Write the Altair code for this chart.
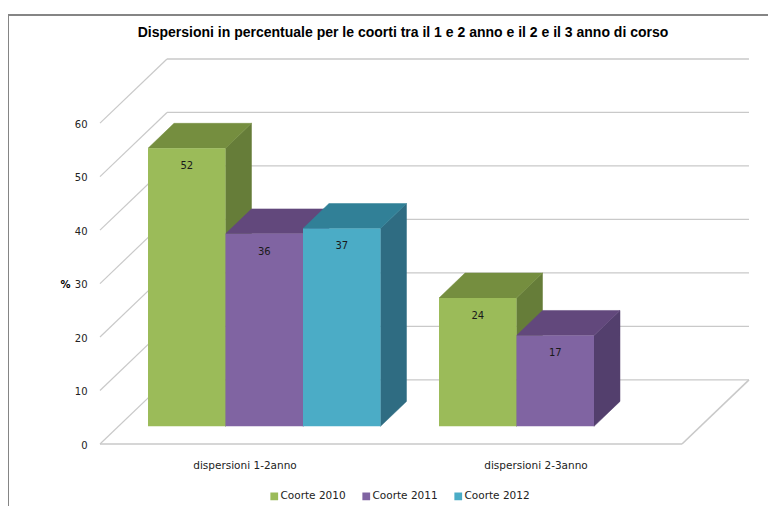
import altair as alt
import pandas as pd

# ---- values
categories = ["dispersioni 1-2anno", "dispersioni 2-3anno"]
cohorts = ["Coorte 2010", "Coorte 2011", "Coorte 2012"]
values_2010 = [52, 24]
values_2011 = [36, 17]
values_2012 = [37, None]
y_ticks = [0, 10, 20, 30, 40, 50, 60]
title_text = "Dispersioni in percentuale per le coorti tra il 1  e 2 anno  e il 2  e il 3  anno di corso"

front_colors = ["#9BBB59", "#8064A2", "#4BACC6"]
side_colors = ["#667D39", "#533F6D", "#2F6C82"]
top_colors = ["#758E3F", "#62487C", "#318097"]
grid_color = "#C9C9C9"
frame_color = "#858585"
font = "DejaVu Sans"

# ---- projection of the 3D box, in data units (1 x unit = one category)
wall_dx, wall_dy = 0.2302, 12.0
bar_dx, bar_dy = 0.0893, 4.67
base_dy = 3.3
bar_w = 0.2663
group_start = 0.165
label_drop = 3.3

x_scale = alt.Scale(domain=[0, 2], nice=False, zero=False)
y_scale = alt.Scale(domain=[0, 72], nice=False, zero=False)

rows = []
for c, series in enumerate([values_2010, values_2011, values_2012]):
    for g, v in enumerate(series):
        if v is None:
            continue
        x0 = g + group_start + c * bar_w
        rows.append(dict(cohort=cohorts[c], c=c, value=v, x0=x0, x1=x0 + bar_w,
                         base=base_dy, top=base_dy + v))
bars = pd.DataFrame(rows)

label_expr = f"{categories!r}[datum.value < 1 ? 0 : 1]"
x_axis = alt.Axis(values=[0.5, 1.5], labelExpr=label_expr, title=None, grid=False, domain=False,
                  ticks=False, labelPadding=16, labelFont=font, labelFontSize=10.5,
                  labelColor="#222222", labelFlush=False, labelOverlap=False, labelOffset=-1)
y_axis = alt.Axis(values=y_ticks, title="%", titleAngle=0, titleX=-35, titleY=230, titleFont=font,
                  titleFontSize=10, titleFontWeight="bold", titleColor="#000000",
                  grid=False, domain=False, ticks=False, labelPadding=13, labelFont=font,
                  labelFontSize=10, labelColor="#222222", labelOffset=1)

X = lambda f: alt.X(f, type="quantitative", scale=x_scale, axis=x_axis)
Y = lambda f: alt.Y(f, type="quantitative", scale=y_scale, axis=y_axis)

# ---- walls and floor
back = pd.DataFrame([dict(x=wall_dx, x2=2 + wall_dx, y=t + wall_dy, y2=t + wall_dy) for t in y_ticks])
left = pd.DataFrame([dict(x=0.0, x2=wall_dx, y=float(t), y2=t + wall_dy) for t in y_ticks])
floor = pd.DataFrame([dict(x=0.0, x2=2.0, y=0.0, y2=0.0), dict(x=2.0, x2=2 + wall_dx, y=0.0, y2=wall_dy)])


def lines(df, width):
    return alt.Chart(df).mark_rule(color=grid_color, strokeWidth=width).encode(
        x=X("x"), x2="x2", y=Y("y"), y2="y2")


layers = [lines(left, 1.2), lines(back, 1.3), lines(floor, 1.6)]

# ---- side and top faces, painted left to right
for _, b in bars.iterrows():
    side = pd.DataFrame(dict(x=[b.x1, b.x1 + bar_dx],
                             lo=[b.base, b.base + bar_dy],
                             hi=[b.top, b.top + bar_dy]))
    layers.append(alt.Chart(side).mark_area(color=side_colors[b.c], stroke=side_colors[b.c], strokeWidth=0.5,
                                            orient="vertical").encode(x=X("x"), y=Y("lo"), y2="hi"))
    top = pd.DataFrame(dict(y=[b.top, b.top + bar_dy],
                            l=[b.x0, b.x0 + bar_dx],
                            r=[b.x1, b.x1 + bar_dx]))
    layers.append(alt.Chart(top).mark_area(color=top_colors[b.c], stroke=top_colors[b.c], strokeWidth=0.5,
                                           orient="horizontal").encode(y=Y("y"), x=X("l"), x2="r"))

# ---- front faces, with the real legend
front = alt.Chart(bars).mark_bar(cornerRadius=0).encode(
    x=X("x0"), x2="x1:Q", y=Y("base"), y2="top:Q",
    color=alt.Color("cohort:N", scale=alt.Scale(domain=cohorts, range=front_colors),
                    legend=alt.Legend(title=None, orient="none", legendX=169, legendY=432, direction="horizontal",
                                      columns=3, symbolType="square", symbolSize=60, symbolStrokeWidth=0,
                                      labelFont=font, labelFontSize=10.5, labelColor="#222222",
                                      columnPadding=15, labelOffset=1)),
)
layers.append(front)

# ---- value labels inside the front faces
lab = bars.assign(cx=(bars.x0 + bars.x1) / 2, ly=bars.top - label_drop)
layers.append(alt.Chart(lab).mark_text(font=font, fontSize=10, color="#1A1A1A").encode(
    x=X("cx"), y=Y("ly"), text="value:Q"))

# ---- frame of the picture
layers.append(alt.Chart(pd.DataFrame({"a": [0]})).mark_rule(color=frame_color, strokeWidth=2).encode(
    x=alt.value(-92), x2=alt.value(668), y=alt.value(-44)))
layers.append(alt.Chart(pd.DataFrame({"a": [0]})).mark_rule(color=frame_color, strokeWidth=1).encode(
    x=alt.value(-91.5), y=alt.value(-44), y2=alt.value(447)))

chart = alt.layer(*layers).properties(
    width=582,
    height=385,
    padding={"left": 92, "top": 51, "right": 86, "bottom": 62},
    autosize=alt.AutoSizeParams(type="none"),
    background="white",
    title=alt.Title(title_text, font="Liberation Sans", fontSize=14, fontWeight="bold", color="#000000",
                    anchor="middle", dx=12, offset=-26),
).configure_view(stroke=None)

chart.save("out.html", embed_options={"renderer": "svg", "actions": False})
